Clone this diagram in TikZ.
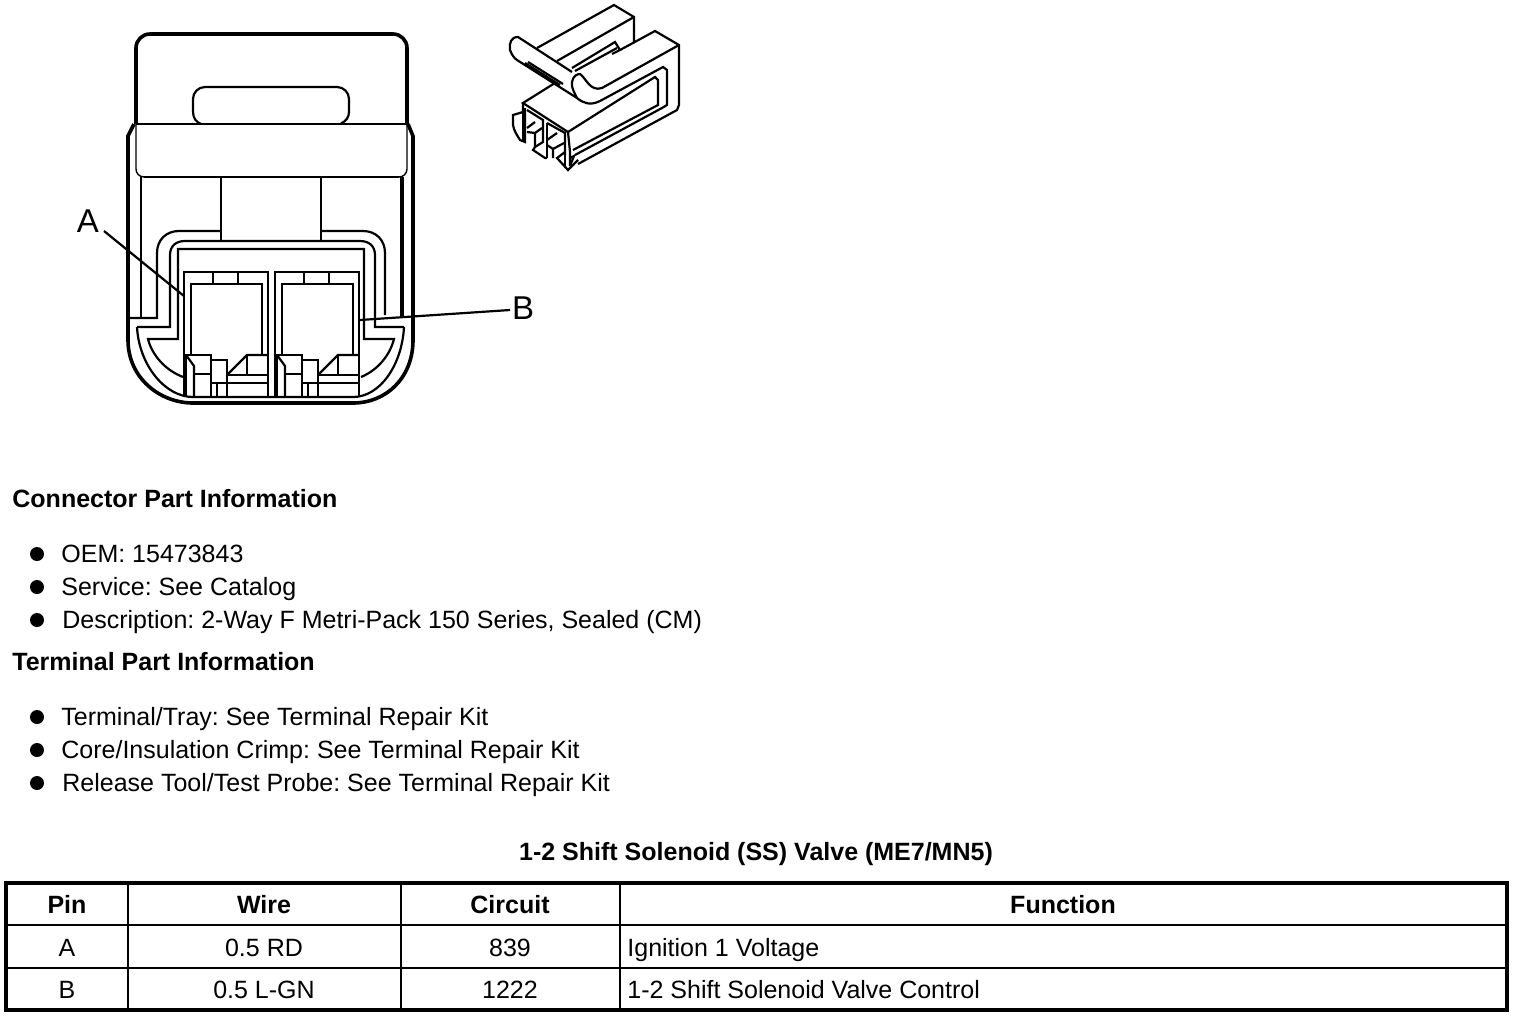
\documentclass[tikz,border=0pt]{standalone}
\usepackage{fontspec}
\setmainfont{Liberation Sans}
\usetikzlibrary{calc}
\frenchspacing
\begin{document}
\begin{tikzpicture}[x=0.5pt,y=-0.5pt]
  \tikzset{heavy/.style={line width=1.8pt},
    medium/.style={line width=1.1pt},
    fine/.style={line width=0.7pt},
    plain text/.style={inner sep=0pt,anchor=base west,font=\fontsize{12.5}{14}\selectfont},
    bold text/.style={plain text,font=\fontsize{12.5}{14}\selectfont\bfseries},
    cell text/.style={plain text,anchor=base},
    cell head/.style={bold text,anchor=base},
    callout/.style={inner sep=0pt,font=\fontsize{16.5}{18}\selectfont},
    mark bullet/.style={inner sep=0pt,outer sep=0pt,minimum size=7pt,fill=black,circle}
  }
  \useasboundingbox (0,0) rectangle (1520,1018);
  % connector, head
  \draw [heavy] (136,124) -- (136,48) arc (180:270:14) -- (393,34) arc (270:360:14) -- (407,124);
  \draw [medium] (201,124) arc (110:180:12) -- (193,99) arc (180:270:12) -- (337,87) arc (270:360:12) -- (349,112) arc (0:70:12);
  \draw [medium] (136,124) -- (407,124);
  \draw [fine] (136,124) -- (136,169) arc (180:90:8) -- (399,177) arc (90:0:8) -- (407,124);
  \draw [medium] (144,177) -- (399,177);
  % connector, body
  \draw [heavy] (134,124) -- (128,136) -- (128,340) .. controls (128,378) and (160,403) .. (193,403)
    -- (353,403) .. controls (386,403) and (413,378) .. (413,340) -- (413,136) -- (408,124);
  \draw [medium] (141,177) -- (141,318);
  \draw [heavy] (402,177) -- (402,316);
  \draw [medium] (221,177) -- (221,241);
  \draw [medium] (321,177) -- (321,241);
  \draw [medium] (130,318) -- (157,318) -- (157,253) .. controls (157,240) and (166,231) .. (179,231) -- (221,231);
  \draw [medium] (321,231) -- (363,231) .. controls (376,231) and (385,240) .. (385,253) -- (385,315);
  \draw [medium] (137,327) -- (170,327) -- (170,255) .. controls (170,246) and (176,241) .. (185,241)
    -- (360,241) .. controls (369,241) and (375,246) .. (375,255) -- (375,327) -- (404,327);
  \draw [medium] (137,327) .. controls (139,365) and (165,397) .. (193,397) -- (353,397)
    .. controls (380,397) and (402,365) .. (404,327);
  \draw [medium] (183,377) .. controls (165,370) and (152,355) .. (148,339) -- (178,339) -- (178,249)
    -- (364,249) -- (364,339) -- (394,339) .. controls (390,355) and (378,370) .. (361,377);
  % terminals
  \foreach \dx in {0,91} {
    \begin{scope}[xshift=\dx*0.5pt]
      \draw [medium] (184,397) -- (184,272) -- (268,272) -- (268,397);
      \draw [medium] (191,355) -- (191,284) -- (262,284) -- (262,355);
      \draw [medium] (213,272) -- (213,284);
      \draw [medium] (238,272) -- (238,284);
      \draw [medium] (186,397) -- (186,355) -- (211,355) -- (211,397);
      \draw [medium] (186,355) -- (194,366) -- (194,397);
      \draw [medium] (194,374) -- (211,374);
      \draw [medium] (211,360) -- (227,360) -- (227,383);
      \draw [fine] (227,383) -- (227,397);
      \draw [medium] (211,383) -- (268,383);
      \draw [medium] (217,383) -- (217,397);
      \draw [medium] (227,375) -- (268,375);
      \draw [medium] (227,375) -- (247,355) -- (268,355);
      \draw [medium] (247,355) -- (247,375);
    \end{scope}
  }
  \node [callout] (lblA) at (88,221) {A};
  \node [callout] (lblB) at (523,308) {B};
  \coordinate (termA) at (184,296);
  \coordinate (termB) at (360,320);
  \draw [medium] ($(lblA)+(16,10)$) -- (termA);
  \draw [medium] (termB) -- ($(lblB)+(-13,2)$);
  % clip, small view
  \draw [medium] (537,48) -- (614,5) -- (634,17) -- (634,43);
  \draw [medium] (557,61) -- (634,17);
  \draw [medium] (572,72) -- (518,37) .. controls (511,37) and (509,43) .. (510,50) .. controls (512,55) and (514,58) .. (517,60)
    -- (577,98) .. controls (583,103) and (590,106) .. (600,101) -- (663,67) -- (667,70) -- (667,105) -- (662,108) -- (575,155);
  \draw [medium] (577,98) .. controls (574,92) and (571,87) .. (572,82) .. controls (573,76) and (577,74) .. (580,74)
    .. controls (586,78) and (590,92) .. (602,88) -- (679,45);
  \draw [medium] (620,50) -- (655,31) -- (679,45) -- (679,105) -- (677,110) -- (578,164);
  \draw [medium] (572,68) -- (615,42) -- (620,50) -- (612,54);
  \draw [medium] (575,71) -- (617,48);
  \draw [medium] (525,63) -- (560,85);
  \draw [medium] (528,62) -- (563,84);
  \draw [medium] (555,83) -- (523,103) -- (568,132) -- (655,77) -- (658,80) -- (658,105) -- (573,150);
  \draw [medium] (568,132) -- (570,152) -- (570,166);
  \draw [medium] (523,103) -- (523,112) -- (513,115) -- (513,125) .. controls (514,131) and (517,135) .. (520,140) -- (525,142) -- (525,108);
  \draw [medium] (523,103) -- (523,140);
  \draw [medium] (527,110) -- (543,120) -- (543,142) -- (535,147) -- (533,150) -- (545,158) -- (547,158);
  \draw [medium] (527,128) -- (535,122);
  \draw [medium] (527,132) -- (535,133) -- (535,147);
  \draw [medium] (535,133) -- (542,128);
  \draw [medium] (547,123) -- (565,133) -- (565,155);
  \draw [medium] (547,123) -- (547,158);
  \draw [medium] (547,140) -- (557,133);
  \draw [medium] (547,145) -- (553,149) -- (553,158);
  \draw [medium] (553,149) -- (564,143);
  \draw [medium] (565,152) -- (557,158) -- (568,170) -- (578,160);
  \draw [medium] (565,155) -- (565,168);
  \draw [medium] (570,158) -- (574,156) -- (570,166);
  % text
  \node [bold text] (conn) at (12,507) {Connector Part Information};
  \node [mark bullet] (b1) at (37,554) {};
  \node [mark bullet] (b2) at (37,587) {};
  \node [mark bullet] (b3) at (37,620) {};
  \node [plain text] (oem) at (61,562) {OEM: 15473843};
  \node [plain text] (serv) at (61,595) {Service: See Catalog};
  \node [plain text] (desc) at (62,628) {Description: 2-Way F Metri-Pack 150 Series, Sealed (CM)};
  \node [bold text] (term) at (12,670) {Terminal Part Information};
  \node [mark bullet] (b4) at (37,717) {};
  \node [mark bullet] (b5) at (37,750) {};
  \node [mark bullet] (b6) at (37,783) {};
  \node [plain text] (tray) at (61,725) {Terminal/Tray: See Terminal Repair Kit};
  \node [plain text] (core) at (61,758) {Core/Insulation Crimp: See Terminal Repair Kit};
  \node [plain text] (tool) at (62,791) {Release Tool/Test Probe: See Terminal Repair Kit};
  \node [cell head] (title) at (756,860) {1-2 Shift Solenoid (SS) Valve (ME7/MN5)};
  % table
  \draw [heavy] (6,883) rectangle (1507,1010);
  \draw [medium] (6,925) -- (1507,925);
  \draw [medium] (6,968) -- (1507,968);
  \foreach \cx in {128,401,620}
    \draw [medium] (\cx,883) -- (\cx,1010);
  \node [cell head] (hpin) at (67,913) {Pin};
  \node [cell head] (hwire) at (264,913) {Wire};
  \node [cell head] (hcirc) at (510,913) {Circuit};
  \node [cell head] (hfunc) at (1063,913) {Function};
  \node [cell text] (pa) at (67,956) {A};
  \node [cell text] (wa) at (264,956) {0.5 RD};
  \node [cell text] (ca) at (510,956) {839};
  \node [plain text] (fa) at (627,956) {Ignition 1 Voltage};
  \node [cell text] (pb) at (67,998) {B};
  \node [cell text] (wb) at (264,998) {0.5 L-GN};
  \node [cell text] (cb) at (510,998) {1222};
  \node [plain text] (fb) at (627,998) {1-2 Shift Solenoid Valve Control};
\end{tikzpicture}
\end{document}
